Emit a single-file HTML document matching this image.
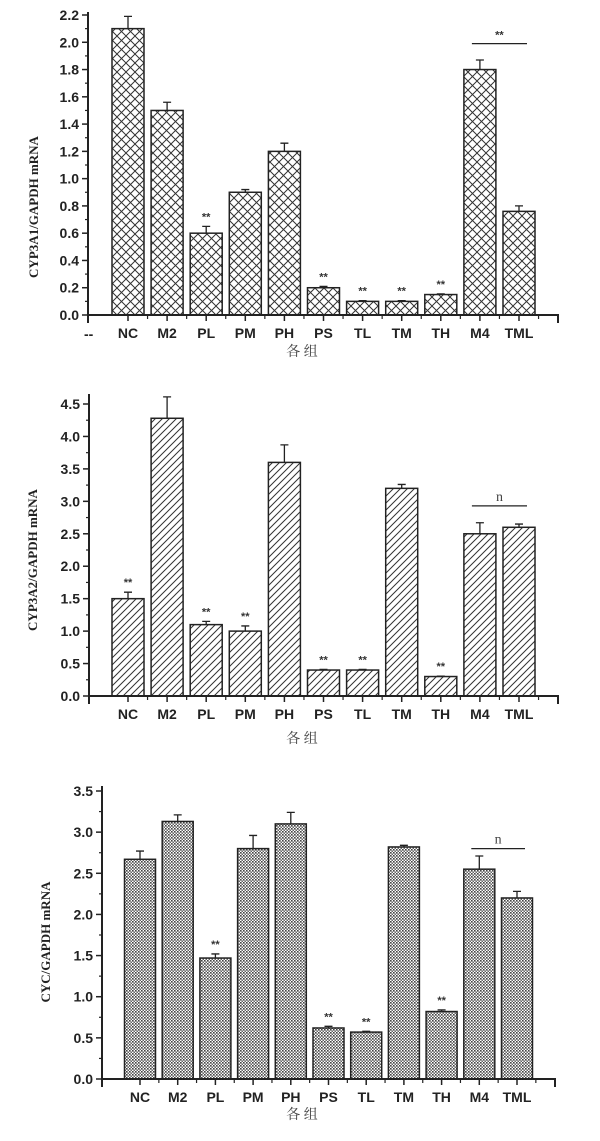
<!DOCTYPE html>
<html><head><meta charset="utf-8"><style>
html,body{margin:0;padding:0;background:#fff}
svg{display:block}
.tk{font-family:"Liberation Sans",sans-serif;font-weight:bold;font-size:14px;fill:#222}
.yt{font-family:"Liberation Serif",serif;font-weight:bold;font-size:13px;fill:#222}
.zh{font-family:"Liberation Serif","Noto Serif CJK SC",serif;font-size:14px;fill:#444}
.st{font-family:"Liberation Sans",sans-serif;font-size:11px;font-weight:bold;fill:#333}
</style></head><body>
<svg id="svg" width="600" height="1141" viewBox="0 0 600 1141" xmlns="http://www.w3.org/2000/svg">
<defs>
<pattern id="p1" width="9" height="9" patternUnits="userSpaceOnUse"><path d="M0 0L9 9M9 0L0 9" stroke="#333" stroke-width="1"/></pattern>
<pattern id="p2" width="7" height="7" patternUnits="userSpaceOnUse"><path d="M-1 8L8 -1M-1 1L1 -1M6 8L8 6" stroke="#333" stroke-width="1"/></pattern>
<pattern id="p3" width="3" height="3" patternUnits="userSpaceOnUse"><rect width="3" height="3" fill="#fff"/><rect width="1.6" height="1.6" fill="#444"/><rect x="1.5" y="1.5" width="1.5" height="1.5" fill="#666"/></pattern>
</defs>
</svg>
<script>
const categories=["NC","M2","PL","PM","PH","PS","TL","TM","TH","M4","TML"];
const values1=[2.1,1.5,0.6,0.9,1.2,0.2,0.1,0.1,0.15,1.8,0.76];
const errors1=[0.09,0.06,0.05,0.02,0.06,0.01,0.005,0.005,0.005,0.07,0.04];
const stars1=[0,0,1,0,0,1,1,1,1,0,0];
const values2=[1.5,4.28,1.1,1.0,3.6,0.4,0.4,3.2,0.3,2.5,2.6];
const errors2=[0.1,0.33,0.05,0.08,0.27,0.01,0.01,0.06,0.005,0.17,0.05];
const stars2=[1,0,1,1,0,1,1,0,1,0,0];
const values3=[2.67,3.13,1.47,2.8,3.1,0.62,0.57,2.82,0.82,2.55,2.2];
const errors3=[0.1,0.08,0.05,0.16,0.14,0.02,0.01,0.02,0.02,0.16,0.08];
const stars3=[0,0,1,0,0,1,1,0,1,0,0];
const ticks1=["0.0","0.2","0.4","0.6","0.8","1.0","1.2","1.4","1.6","1.8","2.0","2.2"];
const ticks2=["0.0","0.5","1.0","1.5","2.0","2.5","3.0","3.5","4.0","4.5"];
const ticks3=["0.0","0.5","1.0","1.5","2.0","2.5","3.0","3.5"];
const svg=document.getElementById('svg');
const NS="http://www.w3.org/2000/svg";
function mk(t,a,p){const e=document.createElementNS(NS,t);for(const k in a)e.setAttribute(k,a[k]);(p||svg).appendChild(e);return e;}
function chart(o){
  const g=mk('g',{});
  
  
  const y=v=>o.y0-(v/o.ymax)*(o.y0-o.ytop);
  const x=i=>o.c0+i*o.pitch;
  // bars
  o.vals.forEach((v,i)=>{
    const b=mk('rect',{x:x(i)-o.bw/2,y:y(v),width:o.bw,height:o.y0-y(v),fill:'url(#'+o.pat+')',stroke:'#222','stroke-width':1.5},g);
    
    
    const ey=y(v+o.errs[i]);
    const eb=mk('path',{d:`M${x(i)} ${y(v)}V${ey}M${x(i)-4} ${ey}H${x(i)+4}`,stroke:'#222','stroke-width':1.3,fill:'none'},g);
    
    
    if(o.stars[i]){const s=mk('text',{x:x(i),y:ey-6,'text-anchor':'middle',class:'st'},g);s.textContent='**';
      
      }
    const t=mk('text',{x:x(i),y:o.y0+23,'text-anchor':'middle',class:'tk'},g);t.textContent=categories[i];
    
    
    mk('line',{x1:x(i),x2:x(i),y1:o.y0,y2:o.y0+6,stroke:'#222','stroke-width':1.5},g);
    mk('line',{x1:x(i)+o.pitch/2,x2:x(i)+o.pitch/2,y1:o.y0,y2:o.y0+4,stroke:'#222','stroke-width':1.2},g);
  });
  // axes
  const ax=mk('path',{d:`M${o.ax} ${o.atop}V${o.y0+8}M${o.ax} ${o.y0}H${o.xend}V${o.y0+8}`,stroke:'#222','stroke-width':2,fill:'none'},g);
  
  
  o.ticks.forEach((lab,j)=>{
    const v=parseFloat(lab),yy=y(v);
    mk('line',{x1:o.ax-6,x2:o.ax,y1:yy,y2:yy,stroke:'#222','stroke-width':1.5},g);
    const h=y(v+o.step/2);
    if(h>=o.atop-1)mk('line',{x1:o.ax-3,x2:o.ax,y1:h,y2:h,stroke:'#222','stroke-width':1.2},g);
    const t=mk('text',{x:o.ax-9,y:yy+5,'text-anchor':'end',class:'tk'},g);t.textContent=lab;
    
    
  });
  const yt=mk('text',{x:o.ylx,y:o.yly,'text-anchor':'middle',class:'yt',transform:`rotate(-90 ${o.ylx} ${o.yly})`},g);yt.textContent=o.ytitle;
  
  
  const xt=mk('text',{x:o.xtx,y:o.xty,'text-anchor':'middle',class:'zh'},g);xt.textContent='各 组';
  
  
  // bracket
  const by=y(o.bracketV);
  const br=mk('line',{x1:x(9)-8,x2:x(10)+8,y1:by,y2:by,stroke:'#222','stroke-width':1.3},g);
  
  
  const bt=mk('text',{x:(x(9)+x(10))/2,y:by-5,'text-anchor':'middle',class:o.bracketLab=='**'?'st':'zh'},g);bt.textContent=o.bracketLab;
  
  
  return g;
}
chart({name:'chart-cyp3a1',vals:values1,errs:errors1,stars:stars1,ticks:ticks1,step:0.2,ymax:2.2,y0:315,ytop:15,atop:12,ax:88,xend:558,c0:128,pitch:39.1,bw:32,pat:'p1',ytitle:'CYP3A1/GAPDH mRNA',ylx:38,yly:207,xtx:302,xty:356,bracketV:1.99,bracketLab:'**'});
chart({name:'chart-cyp3a2',vals:values2,errs:errors2,stars:stars2,ticks:ticks2,step:0.5,ymax:4.5,y0:696,ytop:404,atop:394,ax:89,xend:558,c0:128,pitch:39.1,bw:32,pat:'p2',ytitle:'CYP3A2/GAPDH mRNA',ylx:37,yly:560,xtx:302,xty:743,bracketV:2.93,bracketLab:'n'});
chart({name:'chart-cyc',vals:values3,errs:errors3,stars:stars3,ticks:ticks3,step:0.5,ymax:3.5,y0:1079,ytop:791,atop:786,ax:102,xend:555,c0:140,pitch:37.7,bw:31,pat:'p3',ytitle:'CYC/GAPDH mRNA',ylx:50,yly:942,xtx:302,xty:1119,bracketV:2.8,bracketLab:'n'});
const d=mk('text',{x:84,y:339,class:'tk'});d.textContent='--';


</script>
</body></html>
